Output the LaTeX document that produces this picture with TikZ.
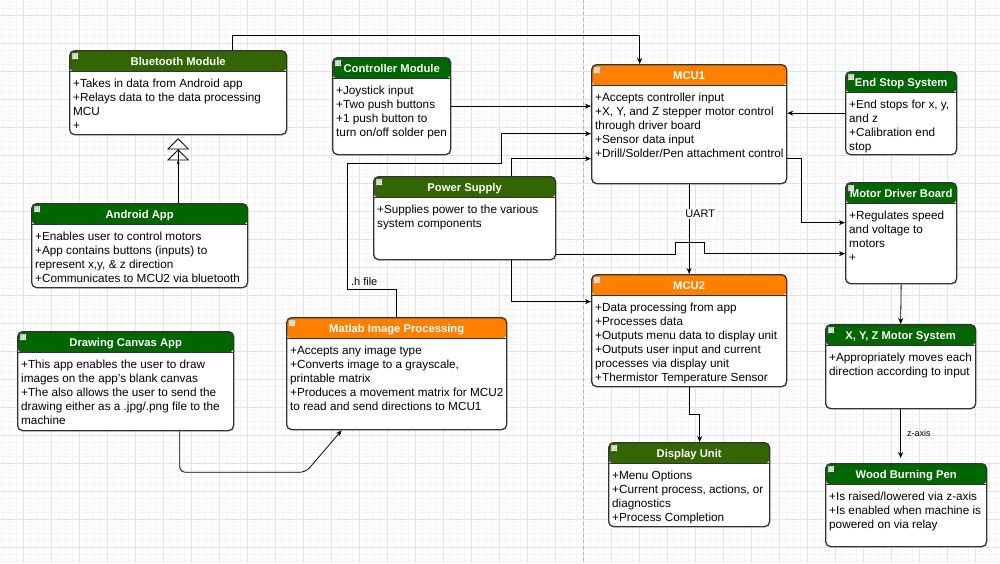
\documentclass[tikz,border=0pt]{standalone}
\usepackage{fontspec}
\setmainfont{Liberation Sans}
\usetikzlibrary{arrows.meta}

\definecolor{hgreen}{HTML}{006600}
\definecolor{holive}{HTML}{336600}
\definecolor{horange}{HTML}{FF8000}
\definecolor{edge}{HTML}{333333}
\definecolor{gridmaj}{HTML}{E3E3E3}
\definecolor{gridmin}{HTML}{F4F4F4}

\tikzset{hdr/.store in=\hdrcol, hdr=hgreen}
\tikzstyle{box} = [draw=edge, line width=1.3pt, rounded corners=5pt, fill=white, inner sep=0pt, anchor=north west,
  path picture={
    \fill[\hdrcol] (path picture bounding box.north west) rectangle ([yshift=-21pt]path picture bounding box.north east);
    \draw[edge, line width=1.3pt] ([yshift=-21pt]path picture bounding box.north west) -- ([yshift=-21pt]path picture bounding box.north east);
    \filldraw[fill=black!18, draw=black!8, line width=0.4pt] ([shift={(3pt,-3pt)}]path picture bounding box.north west) rectangle ++(5pt,-5pt);
  }]
\tikzstyle{grn} = [box, hdr=hgreen]
\tikzstyle{olv} = [box, hdr=holive]
\tikzstyle{org} = [box, hdr=horange]
\tikzstyle{title} = [anchor=north, minimum height=21pt, inner sep=0pt, yshift=-1.5pt, text=white, text height=8pt, text depth=2pt, font=\fontsize{11.25}{13}\selectfont\bfseries]
\tikzstyle{body} = [anchor=north west, align=left, inner sep=0pt, font=\fontsize{11.75}{14}\selectfont]
\tikzstyle{arrow} = [line width=0.8pt, black, -{Stealth[length=6pt,width=5pt]}]
\tikzstyle{inherit} = [line width=0.8pt, black, shorten >=3pt, -{Stealth[length=4pt,width=3pt]Triangle[open,length=11pt,width=22pt]Triangle[open,length=11pt,width=22pt]}]

\begin{document}
\begin{tikzpicture}[x=1pt, y=-1pt]
\useasboundingbox (0,0) rectangle (1000,563);

%% Background grid
\foreach \x in {2.3,9.3,...,1000} \draw[gridmin, line width=0.5pt] (\x,0) -- (\x,563);
\foreach \y in {1.3,8.3,...,563} \draw[gridmin, line width=0.5pt] (0,\y) -- (1000,\y);
\foreach \x in {23.3,51.3,...,1000} \draw[gridmaj, line width=0.7pt] (\x,0) -- (\x,563);
\foreach \y in {15.3,43.3,...,563} \draw[gridmaj, line width=0.7pt] (0,\y) -- (1000,\y);
\draw[black!30, dashed, line width=0.5pt] (583,0) -- (583,563);

%% Left column
\node (blue) [olv, minimum width=217pt, minimum height=84pt] at (69,50) {};
\node (blue_t) [title] at (blue.north) {Bluetooth Module};
\node (blue_b) [body] at ([xshift=4pt,yshift=-28.5pt]blue.north west) {+Takes in data from Android app\\+Relays data to the data processing\\MCU\\+};

\node (andr) [grn, minimum width=216pt, minimum height=84pt] at (31,203) {};
\node (andr_t) [title] at (andr.north) {Android App};
\node (andr_b) [body] at ([xshift=4pt,yshift=-28.5pt]andr.north west) {+Enables user to control motors\\+App contains buttons (inputs) to\\represent x,y, \& z direction\\+Communicates to MCU2 via bluetooth};

\node (drwc) [grn, minimum width=216pt, minimum height=99pt] at (17,331) {};
\node (drwc_t) [title] at (drwc.north) {Drawing Canvas App};
\node (drwc_b) [body] at ([xshift=4pt,yshift=-28.5pt]drwc.north west) {+This app enables the user to draw\\images on the app's blank canvas\\+The also allows the user to send the\\drawing either as a .jpg/.png file to the\\machine};

%% Middle column
\node (ctrl) [grn, minimum width=118pt, minimum height=97pt] at (332,57) {};
\node (ctrl_t) [title] at (ctrl.north) {Controller Module};
\node (ctrl_b) [body] at ([xshift=4pt,yshift=-28.5pt]ctrl.north west) {+Joystick input\\+Two push buttons\\+1 push button to\\turn on/off solder pen};

\node (powr) [olv, minimum width=182pt, minimum height=83pt] at (373,176) {};
\node (powr_t) [title] at (powr.north) {Power Supply};
\node (powr_b) [body] at ([xshift=4pt,yshift=-28.5pt]powr.north west) {+Supplies power to the various\\system components};

\node (matl) [org, minimum width=220pt, minimum height=112pt] at (286,317) {};
\node (matl_t) [title] at (matl.north) {Matlab Image Processing};
\node (matl_b) [body] at ([xshift=4pt,yshift=-28.5pt]matl.north west) {+Accepts any image type\\+Converts image to a grayscale,\\printable matrix\\+Produces a movement matrix for MCU2\\to read and send directions to MCU1};

%% MCUs
\node (mcu1) [org, minimum width=195pt, minimum height=119pt] at (591,64) {};
\node (mcu1_t) [title] at (mcu1.north) {MCU1};
\node (mcu1_b) [body] at ([xshift=4pt,yshift=-28.5pt]mcu1.north west) {+Accepts controller input\\+X, Y, and Z stepper motor control\\through driver board\\+Sensor data input\\+Drill/Solder/Pen attachment control};

\node (mcu2) [org, minimum width=195pt, minimum height=112pt] at (591,274) {};
\node (mcu2_t) [title] at (mcu2.north) {MCU2};
\node (mcu2_b) [body] at ([xshift=4pt,yshift=-28.5pt]mcu2.north west) {+Data processing from app\\+Processes data\\+Outputs menu data to display unit\\+Outputs user input and current\\processes via display unit\\+Thermistor Temperature Sensor};

\node (disp) [olv, minimum width=161pt, minimum height=84pt] at (608,442) {};
\node (disp_t) [title] at (disp.north) {Display Unit};
\node (disp_b) [body] at ([xshift=4pt,yshift=-28.5pt]disp.north west) {+Menu Options\\+Current process, actions, or\\diagnostics\\+Process Completion};

%% Right column
\node (ends) [grn, minimum width=111pt, minimum height=83pt] at (845,71) {};
\node (ends_t) [title] at (ends.north) {End Stop System};
\node (ends_b) [body] at ([xshift=4pt,yshift=-28.5pt]ends.north west) {+End stops for x, y,\\and z\\+Calibration end\\stop};

\node (motd) [grn, minimum width=111pt, minimum height=101pt] at (845,182) {};
\node (motd_t) [title] at (motd.north) {Motor Driver Board};
\node (motd_b) [body] at ([xshift=4pt,yshift=-28.5pt]motd.north west) {+Regulates speed\\and voltage to\\motors\\+};

\node (xyzm) [grn, minimum width=150pt, minimum height=84pt] at (825,324) {};
\node (xyzm_t) [title] at (xyzm.north) {X, Y, Z Motor System};
\node (xyzm_b) [body] at ([xshift=4pt,yshift=-28.5pt]xyzm.north west) {+Appropriately moves each\\direction according to input};

\node (wood) [grn, minimum width=161pt, minimum height=83pt] at (825,463) {};
\node (wood_t) [title] at (wood.north) {Wood Burning Pen};
\node (wood_b) [body] at ([xshift=4pt,yshift=-28.5pt]wood.north west) {+Is raised/lowered via z-axis\\+Is enabled when machine is\\powered on via relay};

%% Arrows
\draw [inherit] (blue.south |- andr.north) -- (blue.south);
\draw [arrow] ([xshift=54.5pt]blue.north) -- ++(0,-15) -| ([xshift=-49.5pt]mcu1.north);
\draw [arrow] (ctrl.east) -- (ctrl.east -| mcu1.west);
\draw [arrow] (matl.north) -- ++(0,-28) -- ++(-49,0) node[anchor=south west, inner sep=3pt, font=\fontsize{11}{13}\selectfont] {.h file} -- ++(0,-126) -- ++(154,0) |- ([yshift=-9.5pt]mcu1.west);
\draw [arrow] ([xshift=47pt]powr.north) |- ([yshift=-34.5pt]mcu1.west);
\draw [arrow] ([xshift=47pt]powr.south) |- ([yshift=29pt]mcu2.west);
\draw [arrow] ([xshift=54pt]drwc.south) [rounded corners=6pt] -- ++(0,41) -- ++(126,0) -- ([xshift=-55pt]matl.south);

\draw [arrow] (ends.west) -- (ends.west -| mcu1.east);
\draw [arrow] ([yshift=-34.5pt]mcu1.east) -- ++(14,0) |- ([yshift=10.5pt]motd.west);
\draw [arrow] (mcu1.south) -- node[pos=0.33, fill=white, inner sep=1pt, xshift=11pt, font=\fontsize{11}{13}\selectfont] {UART} (mcu2.north);
\draw [arrow] ([yshift=-36.5pt]powr.east) -- ++(119,0) -- ++(0,-12) -- ++(29,0) |- ([yshift=-20.5pt]motd.west);
\draw [arrow] (mcu2.south) -- ++(0,27) -| ([xshift=10.5pt]disp.north);

\draw [arrow] (motd.south) -- (xyzm.north);
\draw [arrow] (xyzm.south) -- ([yshift=5pt]xyzm.south |- wood.north) node[midway, right, inner sep=6pt, font=\fontsize{9}{11}\selectfont] {z-axis};
\end{tikzpicture}
\end{document}
